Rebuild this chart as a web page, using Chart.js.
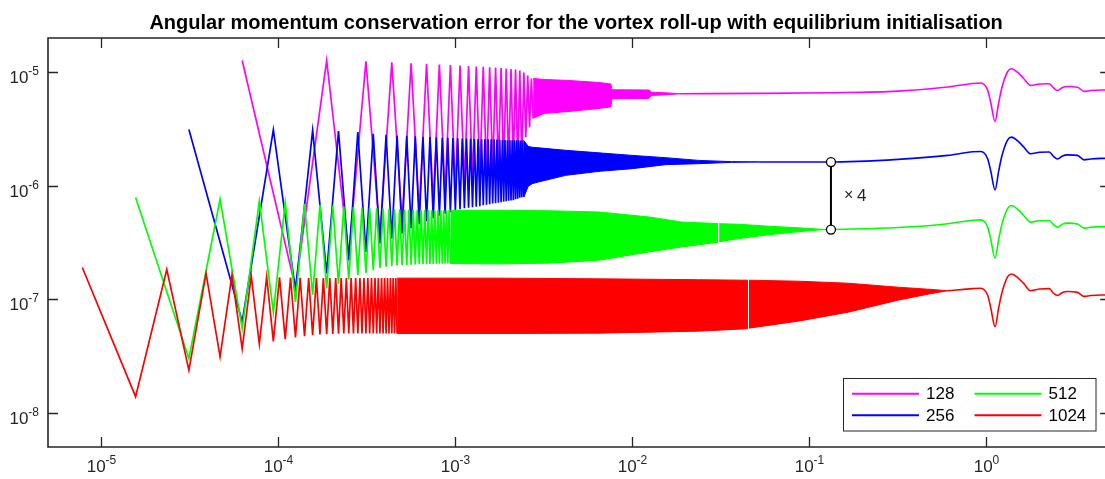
<!DOCTYPE html>
<html>
<head>
<meta charset="utf-8">
<script src="https://cdn.jsdelivr.net/npm/chart.js@4.4.1/dist/chart.umd.min.js"></script>
<style>
  html, body { margin: 0; padding: 0; background: #fff; overflow: hidden; }
  #wrap { position: relative; width: 1116px; height: 479px; }
</style>
</head>
<body>
<div id="wrap"><canvas id="chart" width="1116" height="479"></canvas></div>
<script>
// Series labels and colours
const resolutions = ["128", "256", "512", "1024"];
const colours = ["#ff00ff", "#0000ff", "#00ff00", "#ff0000"];

// Time step of each run: step k sits at x = k * dt
const dt128 = 6.25e-5;
const dt256 = 3.125e-5;
const dt512 = 1.5625e-5;
const dt1024 = 7.8125e-6;

// Early steps, read one by one: odd steps (peaks) and even steps (troughs)
const peaks128 = [1.267e-5, 1.267e-5, 1.249e-5, 1.224e-5, 1.200e-5, 1.186e-5, 1.169e-5, 1.157e-5, 1.145e-5, 1.134e-5,
  1.122e-5, 1.115e-5, 1.106e-5, 1.100e-5, 1.089e-5, 1.078e-5, 1.067e-5, 1.056e-5, 1.035e-5, 9.94e-6, 9.35e-6, 8.80e-6];
const troughs128 = [1.265e-7, 2.443e-7, 3.66e-7, 4.79e-7, 5.87e-7, 7.05e-7, 8.23e-7, 9.11e-7, 1.029e-6, 1.116e-6,
  1.186e-6, 1.260e-6, 1.325e-6, 1.393e-6, 1.451e-6, 1.512e-6, 1.574e-6, 1.622e-6, 1.672e-6, 2.68e-6, 3.28e-6, 3.92e-6];

const peaks256 = [3.13e-6, 3.11e-6, 3.07e-6, 3.03e-6, 2.97e-6, 2.87e-6, 2.81e-6, 2.77e-6, 2.75e-6, 2.72e-6,
  2.70e-6, 2.68e-6, 2.67e-6, 2.65e-6, 2.64e-6, 2.63e-6, 2.62e-6, 2.61e-6, 2.60e-6, 2.59e-6,
  2.58e-6, 2.58e-6, 2.57e-6, 2.56e-6, 2.56e-6, 2.56e-6, 2.55e-6, 2.55e-6, 2.54e-6, 2.53e-6,
  2.53e-6, 2.52e-6, 2.52e-6, 2.51e-6, 2.51e-6, 2.51e-6, 2.51e-6, 2.50e-6, 2.50e-6];
const troughs256 = [6.35e-8, 1.20e-7, 1.69e-7, 2.21e-7, 2.61e-7, 3.10e-7, 3.43e-7, 3.79e-7, 4.22e-7, 4.58e-7,
  4.86e-7, 5.17e-7, 5.44e-7, 5.66e-7, 5.84e-7, 6.02e-7, 6.20e-7, 6.33e-7, 6.40e-7, 6.46e-7,
  6.52e-7, 6.59e-7, 6.72e-7, 6.79e-7, 6.86e-7, 6.96e-7, 7.00e-7, 7.08e-7, 7.15e-7, 7.22e-7,
  7.29e-7, 7.36e-7, 7.41e-7, 7.44e-7, 7.59e-7, 7.67e-7, 7.83e-7, 7.91e-7, 7.96e-7];

const peaks512 = [7.86e-7, 7.59e-7, 7.33e-7, 7.10e-7, 6.93e-7, 6.79e-7, 6.65e-7, 6.56e-7, 6.48e-7, 6.42e-7,
  6.37e-7, 6.33e-7, 6.29e-7, 6.25e-7, 6.23e-7, 6.20e-7, 6.18e-7, 6.16e-7, 6.15e-7, 6.14e-7,
  6.13e-7, 6.11e-7, 6.10e-7, 6.09e-7, 6.08e-7, 6.08e-7, 6.08e-7, 6.08e-7, 6.08e-7, 6.08e-7];
const troughs512 = [3.01e-8, 5.53e-8, 7.66e-8, 9.49e-8, 1.098e-7, 1.245e-7, 1.366e-7, 1.493e-7, 1.629e-7, 1.707e-7,
  1.803e-7, 1.888e-7, 1.935e-7, 1.963e-7, 1.983e-7, 1.995e-7, 2.007e-7, 2.016e-7, 2.024e-7, 2.032e-7,
  2.036e-7, 2.040e-7, 2.044e-7, 2.049e-7, 2.053e-7, 2.057e-7, 2.061e-7, 2.065e-7, 2.065e-7, 2.065e-7];

const peaks1024 = [1.905e-7, 1.83e-7, 1.69e-7, 1.63e-7, 1.61e-7, 1.575e-7, 1.56e-7, 1.55e-7, 1.545e-7, 1.54e-7,
  1.535e-7, 1.535e-7, 1.535e-7, 1.535e-7, 1.535e-7, 1.535e-7, 1.535e-7, 1.535e-7, 1.535e-7, 1.535e-7,
  1.535e-7, 1.535e-7, 1.535e-7, 1.535e-7, 1.535e-7, 1.535e-7, 1.535e-7, 1.535e-7, 1.535e-7, 1.535e-7];
const troughs1024 = [1.387e-8, 2.38e-8, 3.11e-8, 3.66e-8, 4.03e-8, 4.26e-8, 4.46e-8, 4.61e-8, 4.73e-8, 4.83e-8,
  4.90e-8, 4.93e-8, 4.95e-8, 4.97e-8, 5.0e-8, 5.0e-8, 5.0e-8, 5.0e-8, 5.0e-8, 5.0e-8,
  5.0e-8, 5.0e-8, 5.0e-8, 5.0e-8, 5.0e-8, 5.0e-8, 5.0e-8, 5.0e-8, 5.0e-8, 5.0e-8];

// Dense oscillation: upper and lower envelope of the filled band
const bandX128 = [2.75e-3, 3.175e-3, 4.391e-3, 6.477e-3, 7.374e-3, 7.568e-3, 7.667e-3, 0.01239, 0.01288, 0.01605, 0.01827];
const bandHi128 = [8.80e-6, 8.63e-6, 8.45e-6, 8.11e-6, 7.91e-6, 7.87e-6, 7.00e-6, 6.97e-6, 6.67e-6, 6.56e-6, 6.47e-6];
const bandLo128 = [3.92e-6, 4.33e-6, 4.51e-6, 4.79e-6, 4.92e-6, 4.94e-6, 5.83e-6, 5.87e-6, 6.24e-6, 6.33e-6, 6.45e-6];

const bandX256 = [2.4375e-3, 2.580e-3, 2.717e-3, 2.975e-3, 4.206e-3, 6.477e-3, 9.975e-3, 0.01538, 0.02368, 0.03633, 0.0516];
const bandHi256 = [2.50e-6, 2.22e-6, 2.18e-6, 2.155e-6, 2.05e-6, 1.948e-6, 1.85e-6, 1.766e-6, 1.672e-6, 1.63e-6, 1.62e-6];
const bandLo256 = [7.96e-7, 9.88e-7, 1.043e-6, 1.082e-6, 1.234e-6, 1.338e-6, 1.413e-6, 1.533e-6, 1.564e-6, 1.606e-6, 1.62e-6];

const bandXa512 = [9.375e-4, 1.771e-3, 3.388e-3, 6.477e-3, 0.01239, 0.01900, 0.03050];
const bandHia512 = [6.08e-7, 6.08e-7, 6.02e-7, 5.87e-7, 5.31e-7, 4.79e-7, 4.64e-7];
const bandLoa512 = [2.065e-7, 2.05e-7, 2.08e-7, 2.208e-7, 2.61e-7, 2.89e-7, 3.18e-7];
const bandXb512 = [0.03090, 0.03978, 0.05870, 0.08660, 0.1122, 0.1278];
const bandHib512 = [4.63e-7, 4.58e-7, 4.40e-7, 4.26e-7, 4.15e-7, 4.11e-7];
const bandLob512 = [3.21e-7, 3.42e-7, 3.70e-7, 3.93e-7, 4.07e-7, 4.11e-7];

const bandXa1024 = [4.6875e-4, 1.771e-3, 6.477e-3, 0.02368, 0.04498];
const bandHia1024 = [1.535e-7, 1.535e-7, 1.514e-7, 1.487e-7, 1.472e-7];
const bandLoa1024 = [5.0e-8, 5.0e-8, 5.03e-8, 5.24e-8, 5.51e-8];
const bandXb1024 = [0.04557, 0.0866, 0.1656, 0.3168, 0.4671, 0.6054];
const bandHib1024 = [1.472e-7, 1.443e-7, 1.385e-7, 1.277e-7, 1.227e-7, 1.19e-7];
const bandLob1024 = [5.57e-8, 6.42e-8, 7.70e-8, 9.82e-8, 1.109e-7, 1.19e-7];

// Converged part, same times for every run
const tailX = [0.01827, 0.0516, 0.1278, 0.3168, 0.6054, 0.8374, 0.9288, 1.017, 1.057, 1.118, 1.173, 1.219, 1.318, 1.388,
  1.501, 1.622, 1.776, 1.996, 2.263, 2.393, 2.520, 2.689, 2.870, 3.266, 3.563, 3.867, 4.459, 4.9];
const tail128 = [6.46e-6, 6.50e-6, 6.59e-6, 6.81e-6, 7.41e-6, 7.95e-6, 8.03e-6, 6.90e-6, 5.41e-6, 3.68e-6, 5.41e-6, 7.19e-6,
  1.014e-5, 1.071e-5, 9.94e-6, 8.80e-6, 7.64e-6, 7.87e-6, 7.91e-6, 7.26e-6, 6.90e-6, 7.34e-6, 7.48e-6, 7.38e-6, 6.77e-6,
  6.90e-6, 6.97e-6, 6.95e-6];
const tail256 = [1.62e-6, 1.616e-6, 1.707e-6, 1.85e-6, 1.99e-6, 2.0e-6, 1.72e-6, 1.35e-6, 0.92e-6, 1.35e-6, 1.80e-6,
  2.53e-6, 2.68e-6, 2.48e-6, 2.2e-6, 1.91e-6, 1.97e-6, 1.98e-6, 1.81e-6, 1.72e-6, 1.83e-6, 1.87e-6, 1.85e-6, 1.69e-6,
  1.72e-6, 1.74e-6, 1.74e-6];
const tail512 = [4.11e-7, 4.28e-7, 4.63e-7, 4.97e-7, 5.0e-7, 4.3e-7, 3.38e-7, 2.3e-7, 3.38e-7, 4.5e-7, 6.33e-7, 6.7e-7,
  6.2e-7, 5.5e-7, 4.78e-7, 4.92e-7, 4.94e-7, 4.54e-7, 4.31e-7, 4.59e-7, 4.68e-7, 4.61e-7, 4.23e-7, 4.31e-7, 4.36e-7, 4.36e-7];
const tail1024 = [1.19e-7, 1.24e-7, 1.25e-7, 1.08e-7, 8.45e-8, 5.75e-8, 8.45e-8, 1.12e-7, 1.58e-7, 1.67e-7, 1.55e-7,
  1.38e-7, 1.19e-7, 1.23e-7, 1.24e-7, 1.13e-7, 1.08e-7, 1.15e-7, 1.17e-7, 1.15e-7, 1.06e-7, 1.08e-7, 1.09e-7, 1.09e-7];

// The x4 marker between 256 and 512
const ratioX = 0.1323;
const ratioY = [1.616e-6, 4.11e-7];
const ratioLabel = "×4";

const xTickExps = [-5, -4, -3, -2, -1, 0];
const yTickExps = [-8, -7, -6, -5];
const titleText = "Angular momentum conservation error for the vortex roll-up with equilibrium initialisation";

const FONT = '"Liberation Sans", Arial, Helvetica, sans-serif';
const AXIS_COLOUR = "#262626";

// Build helpers
function zigzag(dt, peaks, troughs) {
  const pts = [];
  for (let i = 0; i < peaks.length; i++) {
    pts.push({ x: (2 * i + 1) * dt, y: peaks[i] });
    if (i < troughs.length) pts.push({ x: (2 * i + 2) * dt, y: troughs[i] });
  }
  return pts;
}
function pairs(xs, ys) {
  return ys.map((v, i) => ({ x: xs[i], y: v }));
}

const datasets = [];
// lower "order" is drawn on top: red on top, magenta at the bottom
function addRun(idx, zig, bands, tailPts, order) {
  const c = colours[idx];
  datasets.push({ label: resolutions[idx], data: zig, borderColor: c, borderWidth: 1.7, pointRadius: 0, fill: false, order });
  bands.forEach(b => {
    const hiIndex = datasets.length;
    datasets.push({ label: "", data: b.hi, borderColor: c, backgroundColor: c, borderWidth: 1, pointRadius: 0,
      fill: hiIndex + 1, order });
    datasets.push({ label: "", data: b.lo, borderColor: c, borderWidth: 1, pointRadius: 0, fill: false, order });
  });
  datasets.push({ label: "", data: tailPts, borderColor: c, borderWidth: 1.6, pointRadius: 0, fill: false,
    cubicInterpolationMode: "monotone", order });
}

addRun(0, zigzag(dt128, peaks128, troughs128),
  [{ hi: pairs(bandX128, bandHi128), lo: pairs(bandX128, bandLo128) }],
  pairs(tailX, tail128), 4);
addRun(1, zigzag(dt256, peaks256, troughs256),
  [{ hi: pairs(bandX256, bandHi256), lo: pairs(bandX256, bandLo256) }],
  pairs(tailX.slice(1), tail256), 3);
addRun(2, zigzag(dt512, peaks512, troughs512),
  [{ hi: pairs(bandXa512, bandHia512), lo: pairs(bandXa512, bandLoa512) },
   { hi: pairs(bandXb512, bandHib512), lo: pairs(bandXb512, bandLob512) }],
  pairs(tailX.slice(2), tail512), 2);
addRun(3, zigzag(dt1024, peaks1024, troughs1024),
  [{ hi: pairs(bandXa1024, bandHia1024), lo: pairs(bandXa1024, bandLoa1024) },
   { hi: pairs(bandXb1024, bandHib1024), lo: pairs(bandXb1024, bandLob1024) }],
  pairs(tailX.slice(4), tail1024), 1);

datasets.push({
  label: "", data: ratioY.map(v => ({ x: ratioX, y: v })), borderColor: "#000", borderWidth: 2,
  pointRadius: 4.5, pointBackgroundColor: "#fff", pointBorderColor: "#000", pointBorderWidth: 1.3,
  fill: false, order: 0
});

// Draw power-of-ten label "10" with raised exponent
function drawPower(ctx, exp, x, y, align) {
  const base = "10", sup = String(exp);
  ctx.font = "17px " + FONT;
  const wb = ctx.measureText(base).width;
  ctx.font = "12px " + FONT;
  const ws = ctx.measureText(sup).width;
  const left = align === "center" ? x - (wb + ws) / 2 : x - (wb + ws);
  ctx.textAlign = "left";
  ctx.textBaseline = "alphabetic";
  ctx.font = "17px " + FONT;
  ctx.fillText(base, left, y);
  ctx.font = "12px " + FONT;
  ctx.fillText(sup, left + wb, y - 8);
}

const matlabAxes = {
  id: "matlabAxes",
  afterDraw(chart) {
    const { ctx, chartArea: a, scales: { x, y } } = chart;
    ctx.save();
    ctx.strokeStyle = AXIS_COLOUR;
    ctx.fillStyle = AXIS_COLOUR;
    ctx.lineWidth = 1.6;

    // frame
    ctx.beginPath();
    ctx.rect(a.left, a.top, a.right - a.left, a.bottom - a.top);
    ctx.stroke();

    // inward ticks
    ctx.lineWidth = 1.3;
    const len = 10;
    xTickExps.forEach(e => {
      const px = Math.round(x.getPixelForValue(Math.pow(10, e))) + 0.5;
      ctx.beginPath();
      ctx.moveTo(px, a.bottom); ctx.lineTo(px, a.bottom - len);
      ctx.moveTo(px, a.top); ctx.lineTo(px, a.top + len);
      ctx.stroke();
      drawPower(ctx, e, px, a.bottom + 25, "center");
    });
    yTickExps.forEach(e => {
      const py = Math.round(y.getPixelForValue(Math.pow(10, e))) + 0.5;
      ctx.beginPath();
      ctx.moveTo(a.left, py); ctx.lineTo(a.left + len, py);
      ctx.moveTo(a.right, py); ctx.lineTo(a.right - len, py);
      ctx.stroke();
      drawPower(ctx, e, a.left - 9, py + 10, "right");
    });

    // title
    ctx.fillStyle = "#000";
    ctx.font = "bold 20px " + FONT;
    ctx.textAlign = "center";
    ctx.textBaseline = "alphabetic";
    ctx.fillText(titleText, (a.left + a.right) / 2 - 3, 29);

    // ratio label
    const rx = x.getPixelForValue(ratioX);
    const ryMid = (y.getPixelForValue(ratioY[0]) + y.getPixelForValue(ratioY[1])) / 2;
    ctx.fillStyle = AXIS_COLOUR;
    ctx.textAlign = "left";
    ctx.textBaseline = "middle";
    ctx.font = "16px " + FONT;
    ctx.fillText(ratioLabel[0], rx + 13, ryMid);
    ctx.font = "17px " + FONT;
    ctx.fillText(ratioLabel.slice(1), rx + 26, ryMid);

    // legend, two columns inside the lower right corner
    const box = { left: 843.5, top: 378.5, w: 252.5, h: 52.5 };
    ctx.fillStyle = "#fff";
    ctx.fillRect(box.left, box.top, box.w, box.h);
    ctx.strokeStyle = "#262626";
    ctx.lineWidth = 1;
    ctx.strokeRect(box.left, box.top, box.w, box.h);
    const cols = [852, 974.5];
    const rows = [393.7, 415.2];
    resolutions.forEach((r, i) => {
      const cx = cols[Math.floor(i / 2)], cy = rows[i % 2];
      ctx.strokeStyle = colours[i];
      ctx.lineWidth = 2;
      ctx.beginPath();
      ctx.moveTo(cx, cy); ctx.lineTo(cx + 67, cy);
      ctx.stroke();
      ctx.fillStyle = "#000";
      ctx.font = "17px " + FONT;
      ctx.textAlign = "left";
      ctx.textBaseline = "middle";
      ctx.fillText(r, cx + 74, cy + 1);
    });
    ctx.restore();
  }
};

new Chart(document.getElementById("chart"), {
  type: "line",
  data: { datasets },
  options: {
    responsive: false,
    animation: false,
    devicePixelRatio: 1,
    layout: { padding: { left: 48, top: 38, right: 4, bottom: 32 } },
    scales: {
      x: { type: "logarithmic", min: 5e-6, max: 5, display: false },
      y: { type: "logarithmic", min: 5e-9, max: 2e-5, display: false }
    },
    plugins: {
      legend: { display: false },
      title: { display: false },
      tooltip: { enabled: false }
    },
    elements: { line: { tension: 0 } }
  },
  plugins: [matlabAxes]
});
</script>
</body>
</html>
